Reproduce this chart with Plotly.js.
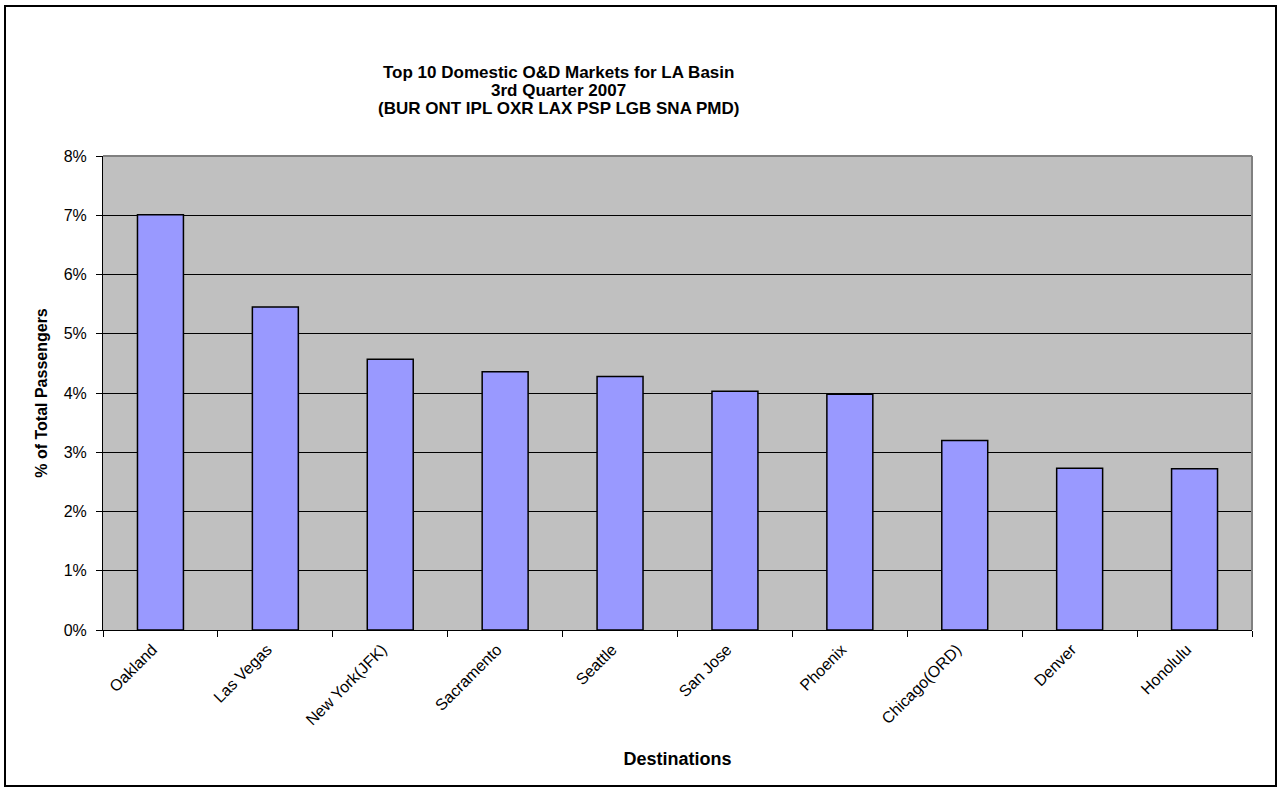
<!DOCTYPE html>
<html>
<head>
<meta charset="utf-8">
<script src="https://cdn.plot.ly/plotly-3.0.1.min.js"></script>
<style>
  html, body { margin: 0; padding: 0; background: #ffffff; }
  #frame { position: absolute; left: 4px; top: 5px; width: 1273px; height: 782px; border: 2px solid #000; box-sizing: border-box; background: #fff; }
  #chart { width: 1269px; height: 778px; }
</style>
</head>
<body>
<div id="frame"><div id="chart"></div></div>
<script>
const destinations = ["Oakland", "Las Vegas", "New York(JFK)", "Sacramento", "Seattle", "San Jose", "Phoenix", "Chicago(ORD)", "Denver", "Honolulu"];
const sharePct = [7.01, 5.45, 4.57, 4.36, 4.28, 4.03, 3.98, 3.20, 2.73, 2.72];
const yTickVals = [0, 1, 2, 3, 4, 5, 6, 7, 8];
const yTickText = ["0%", "1%", "2%", "3%", "4%", "5%", "6%", "7%", "8%"];
const titleLines = ["Top 10 Domestic O&D Markets for LA Basin", "3rd Quarter 2007", "(BUR ONT IPL OXR LAX PSP LGB SNA PMD)"];

const FONT = "Liberation Sans, Arial, sans-serif";
const titleY = [1.1772, 1.1382, 1.0992];

const trace = {
  type: "bar",
  x: destinations,
  y: sharePct,
  marker: { color: "#9999FF", line: { color: "#000000", width: 1.5 } },
  hoverinfo: "x+y"
};

const layout = {
  width: 1269,
  height: 778,
  paper_bgcolor: "#ffffff",
  plot_bgcolor: "#C0C0C0",
  margin: { l: 97, r: 23, t: 149, b: 155 },
  bargap: 0.6,
  showlegend: false,
  font: { family: FONT, color: "#000" },
  annotations: titleLines.map((t, i) => ({
    text: "<b>" + t + "</b>",
    xref: "paper", yref: "paper",
    x: 0.396, y: titleY[i],
    xanchor: "center", yanchor: "middle",
    showarrow: false,
    font: { family: FONT, size: 17, color: "#000" }
  })),
  xaxis: {
    type: "category",
    tickangle: -45,
    tickfont: { family: FONT, size: 16, color: "#000" },
    ticks: "outside",
    tickson: "boundaries",
    ticklen: 6,
    tickcolor: "#000",
    ticklabelstandoff: 3,
    ticklabelshift: -8,
    showgrid: false,
    showline: true,
    linecolor: "#000",
    linewidth: 1,
    title: { text: "<b>Destinations</b>", font: { family: FONT, size: 18, color: "#000" }, standoff: 24 },
    automargin: false
  },
  yaxis: {
    range: [0, 8],
    tickvals: yTickVals,
    ticktext: yTickText,
    tickfont: { family: FONT, size: 16, color: "#000" },
    ticks: "outside",
    ticklen: 6,
    tickcolor: "#000",
    ticklabelstandoff: 6,
    showgrid: true,
    gridcolor: "#000",
    gridwidth: 1,
    showline: true,
    linecolor: "#000",
    linewidth: 1,
    zeroline: false,
    title: { text: "<b>% of Total Passengers</b>", font: { family: FONT, size: 16, color: "#000" }, standoff: 12 },
    automargin: false
  },
  shapes: [
    { type: "line", xref: "paper", yref: "paper", x0: 0, x1: 1, y0: 1, y1: 1, line: { color: "#808080", width: 2 } },
    { type: "line", xref: "paper", yref: "paper", x0: 1, x1: 1, y0: 0, y1: 1, line: { color: "#808080", width: 2 } }
  ]
};

Plotly.newPlot("chart", [trace], layout, { displayModeBar: false, staticPlot: true });
</script>
</body>
</html>
